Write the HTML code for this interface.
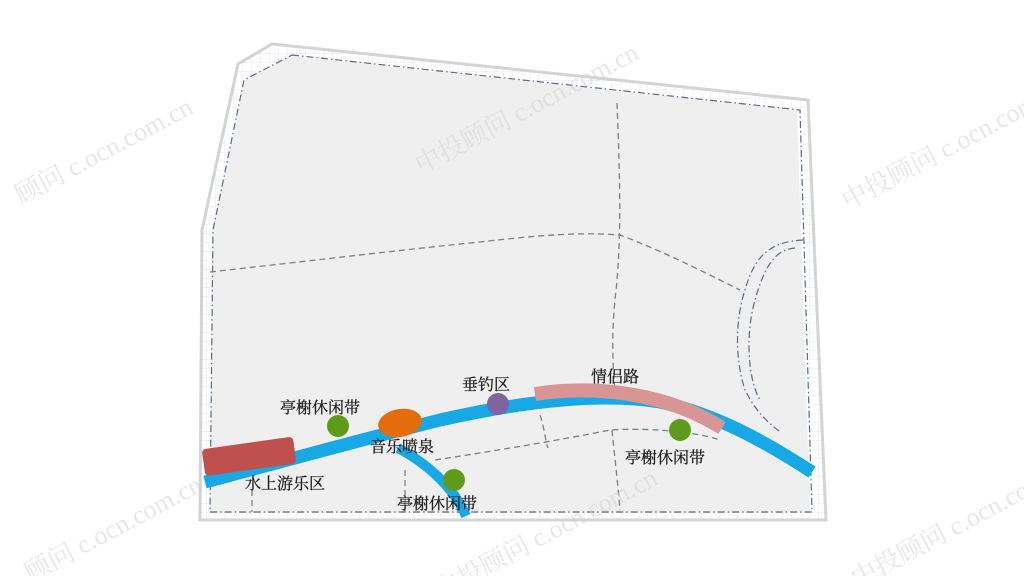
<!DOCTYPE html>
<html><head><meta charset="utf-8"><style>
html,body{margin:0;padding:0;background:#fff;}
svg text{font-family:"Liberation Serif","Noto Serif CJK SC",serif;}
</style></head><body>
<svg width="1024" height="576" viewBox="0 0 1024 576" xmlns="http://www.w3.org/2000/svg">
<defs>
<pattern id="g" width="9" height="9" patternUnits="userSpaceOnUse"><path d="M9 0V9M0 9H9" stroke="#dde2ea" stroke-width="0.7" fill="none"/></pattern>
</defs>
<polygon points="272,44 808,100 826,520 200,520 202,230 238,64" fill="url(#g)" stroke="#d4d4d4" stroke-width="3"/>
<polygon points="290,56 797,110 810,512 210,512 212,230 245,80" fill="#efefef" stroke="none"/>
<polygon points="292,55 800,110 812,512 210,512 213,230 244,80" fill="none" stroke="#5a6a88" stroke-width="1.2" stroke-dasharray="7,3,1.5,3"/>
<path d="M803,240 C770,242 755,255 745,290 C735,320 735,360 745,390 C755,410 765,420 780,432" fill="none" stroke="#5a6a88" stroke-width="1.2" stroke-dasharray="7,3,1.5,3"/>
<path d="M795,248 C775,250 765,265 755,300 C745,335 748,380 760,400" fill="none" stroke="#5a6a88" stroke-width="1.2" stroke-dasharray="7,3,1.5,3"/>
<g fill="none" stroke="#7f7f7f" stroke-width="1.3" stroke-dasharray="6,4">
<path d="M210,272 C300,262 400,250 480,242 C540,235 580,232 620,235 C660,250 700,270 740,290"/>
<path d="M617,103 C620,180 622,240 615,300 C612,330 612,360 615,390"/>
<path d="M435,460 C500,450 560,440 610,430 C640,428 690,430 720,440"/>
<path d="M540,415 C545,430 545,440 548,448"/>
<path d="M612,430 C615,460 618,485 620,510"/>
<path d="M252,490 L252,512"/>
<path d="M405,470 L405,512"/>
</g>
<path d="M205,482 C280,462 360,440 440,420 C520,402 600,392 660,402 C720,415 770,445 812,472" fill="none" stroke="#17a8e6" stroke-width="13"/>
<path d="M398,448 C430,465 455,490 466,516" fill="none" stroke="#17a8e6" stroke-width="10"/>
<path d="M535,394 C600,384 670,395 722,428" fill="none" stroke="#d99494" stroke-width="14"/>
<g transform="rotate(-8 248 456)"><rect x="203" y="443" width="92" height="27" rx="4" fill="#c0504d"/></g>
<ellipse cx="400" cy="423" rx="22" ry="14" transform="rotate(-10 400 423)" fill="#e46c0a"/>
<circle cx="338" cy="426" r="11" fill="#5f9b1a"/>
<circle cx="454" cy="480" r="11" fill="#5f9b1a"/>
<circle cx="680" cy="430" r="11" fill="#5f9b1a"/>
<circle cx="498" cy="404" r="11" fill="#8064a2"/>
<g font-size="16" fill="#222" stroke="#222" stroke-width="0.3">
<text x="280" y="413">亭榭休闲带</text>
<text x="370" y="452">音乐喷泉</text>
<text x="462" y="390">垂钓区</text>
<text x="591" y="382">情侣路</text>
<text x="625" y="463">亭榭休闲带</text>
<text x="245" y="489">水上游乐区</text>
<text x="397" y="509">亭榭休闲带</text>
</g>
<g font-family="Liberation Sans,Noto Sans CJK SC,sans-serif" font-size="26" fill="#d0d0d0" opacity="0.5">
<text x="0" y="160" transform="rotate(-28 100 140)">顾问 c.ocn.com.cn</text>
<text x="400" y="130" transform="rotate(-28 500 110)">中投顾问 c.ocn.com.cn</text>
<text x="830" y="180" transform="rotate(-28 900 160)">中投顾问 c.ocn.com.cn</text>
<text x="0" y="540" transform="rotate(-28 100 500)">顾问 c.ocn.com.cn</text>
<text x="400" y="560" transform="rotate(-28 500 500)">中投顾问 c.ocn.com.cn</text>
<text x="830" y="560" transform="rotate(-28 900 520)">中投顾问 c.ocn.com.cn</text>
</g>
</svg>
</body></html>
